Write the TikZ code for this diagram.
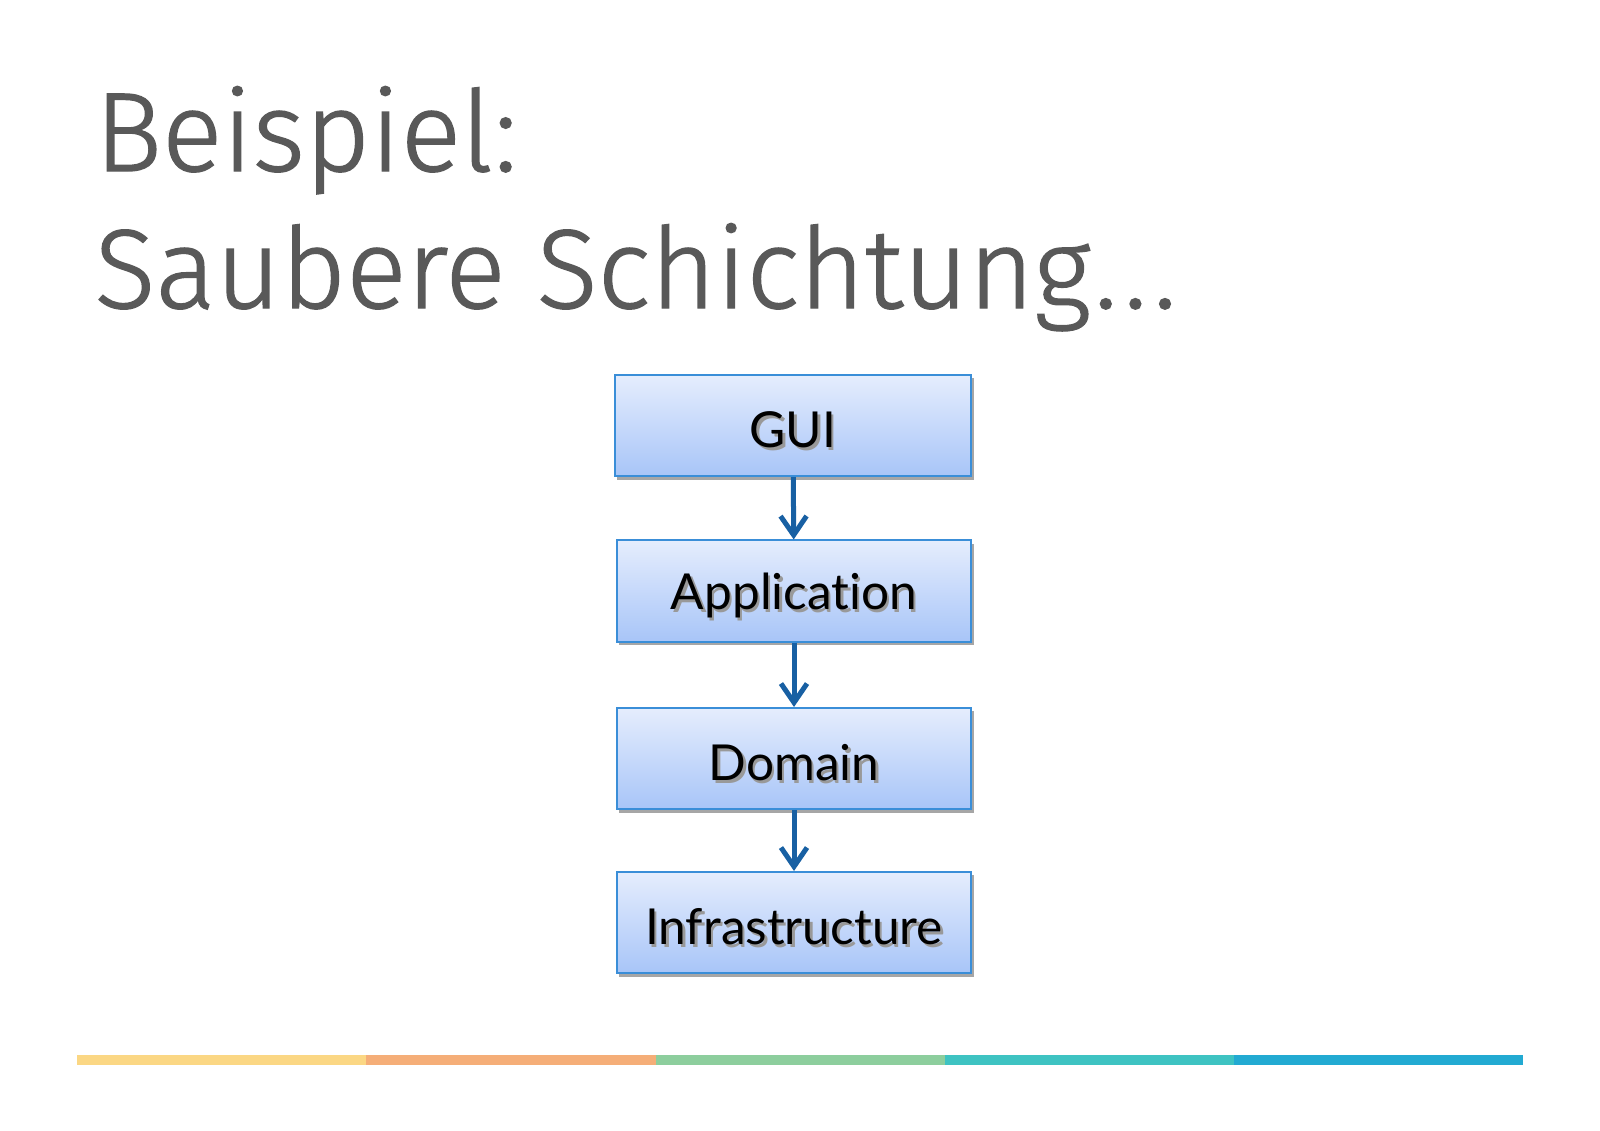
\documentclass[tikz,border=0pt]{standalone}
\usepackage{fontspec}
\usetikzlibrary{arrows.meta, shadows}
\newfontfamily\titlefont{Fira Sans Light}[FakeBold=1.2]
\newfontfamily\layerfont{Lato}[Ligatures={NoCommon}]
\definecolor{titlegray}{RGB}{89,89,89}
\definecolor{layertop}{RGB}{229,237,253}
\definecolor{layerbot}{RGB}{168,197,248}
\definecolor{layerline}{RGB}{58,142,216}
\definecolor{arrowblue}{RGB}{24,96,163}
\definecolor{baryellow}{RGB}{251,215,132}
\definecolor{barorange}{RGB}{245,174,120}
\definecolor{bargreen}{RGB}{141,206,157}
\definecolor{barteal}{RGB}{62,195,194}
\definecolor{barblue}{RGB}{34,170,210}
\newcommand{\layertext}[1]{\raisebox{-1.7pt}[\height][\depth]{\rlap{\raisebox{-0.9pt}{\hspace{0.7pt}\color{black!40}#1}}#1}}
\tikzstyle{title}=[anchor=base west, inner sep=0pt, text=titlegray, font=\titlefont\fontsize{32}{38}\selectfont]
\tikzstyle{layer}=[rectangle, draw=layerline, line width=0.02cm, top color=layertop, bottom color=layerbot, minimum width=3.54cm, minimum height=1.01cm, inner sep=0pt, font=\layerfont\fontsize{14.1}{16}\selectfont, drop shadow={shadow xshift=0.025cm, shadow yshift=-0.035cm, opacity=0.35, fill=black}]
\tikzstyle{dep}=[draw=arrowblue, line width=0.05cm, -{Straight Barb[length=0.19cm, width=0.26cm]}]

\begin{document}
\begin{tikzpicture}[x=0.01cm, y=-0.01cm]
    \useasboundingbox (0,0) rectangle (1600,1130);
    \node[title] (t1) at (94,171) {Beispiel:};
    \node[title] (t2) at (94,308) {Saubere Schichtung\kern1pt.\kern1.8pt.\kern1.8pt.};
    \node[layer, minimum width=3.56cm] (gui) at (793,425.5) {\layertext{GUI}};
    \node[layer] (app) at (794,591) {\layertext{Application}};
    \node[layer] (dom) at (794,758.5) {\layertext{Domain}};
    \node[layer] (infra) at (794,922.5) {\layertext{Infrastructure}};
    \draw[dep] (gui) -- (app);
    \draw[dep] (app) -- (dom);
    \draw[dep] (dom) -- (infra);
    \fill[baryellow] (77,1055) rectangle (366,1065);
    \fill[barorange] (366,1055) rectangle (656,1065);
    \fill[bargreen] (656,1055) rectangle (945,1065);
    \fill[barteal] (945,1055) rectangle (1234,1065);
    \fill[barblue] (1234,1055) rectangle (1523,1065);
\end{tikzpicture}
\end{document}
